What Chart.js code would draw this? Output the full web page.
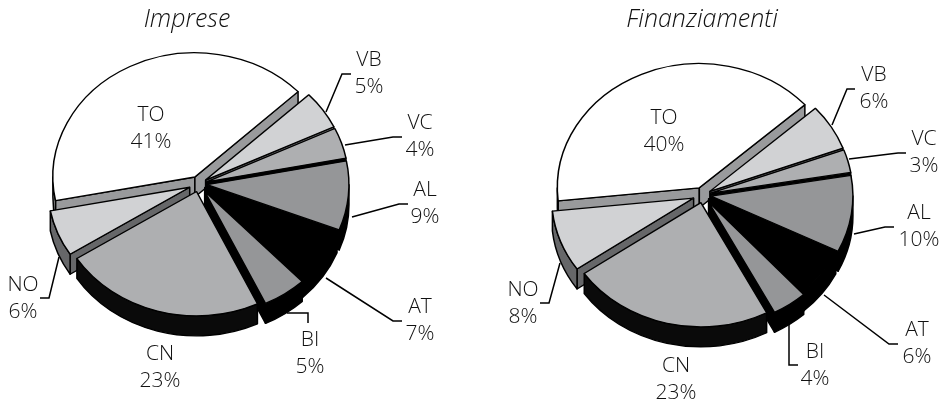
<!DOCTYPE html>
<html>
<head>
<meta charset="utf-8">
<title>Imprese e finanziamenti</title>
<script src="https://cdn.jsdelivr.net/npm/chart.js@4/dist/chart.umd.min.js"></script>
<style>
  html, body { margin: 0; padding: 0; background: #fff; }
  #wrap { position: relative; width: 942px; height: 403px; overflow: hidden; }
  canvas { position: absolute; top: 0; }
  #chart-imprese { left: 0; }
  #chart-finanziamenti { left: 471px; }
</style>
</head>
<body>
<div id="wrap">
  <canvas id="chart-imprese" width="471" height="403"></canvas>
  <canvas id="chart-finanziamenti" width="471" height="403"></canvas>
</div>
<script>
// Province, clockwise from the large white slice
const categories = ['TO', 'VB', 'VC', 'AL', 'AT', 'BI', 'CN', 'NO'];
const impreseValues = [41, 5, 4, 9, 7, 5, 23, 6];
const finanziamentiValues = [40, 6, 3, 10, 6, 4, 23, 8];

// Slice styling
const topColors = ['#ffffff', '#d1d2d4', '#aeafb1', '#959698', '#000000', '#959698', '#aeafb1', '#d1d2d4'];
const sideColors = ['#999a9c', '#5e5f61', '#000000', '#000000', '#000000', '#000000', '#0a0a0a', '#666769'];
const explode = [9, 8, 8, 8, 7, 10, 9, 10];

// Back slices have to be painted before the front ones
const paintOrder = [0, 1, 2, 3, 7, 4, 5, 6];

const SQUASH = 0.875;
const DEPTH = 20;
const LINE = 1.5;
const FONT = '"Open Sans", "Noto Sans", sans-serif';
const INK = '#111111';

// Tilts the pie and gives each slice a side wall, then lets the arc element draw the top
const tiltedPie = {
    id: 'tiltedPie',
    beforeDatasetDraw(chart, args, opts) {
        const ctx = chart.ctx;
        const arcs = args.meta.data;
        const dy = DEPTH / SQUASH;

        ctx.save();
        ctx.translate(opts.cx, opts.cy);
        ctx.scale(1, SQUASH);
        ctx.translate(-arcs[0].x, -arcs[0].y);

        paintOrder.forEach(i => {
            const el = arcs[i];
            const mid = (el.startAngle + el.endAngle) / 2;
            const k = explode[i];
            const { x, y, startAngle: s, endAngle: e, outerRadius: r } = el;

            ctx.save();
            ctx.translate(Math.cos(mid) * k, Math.sin(mid) * k);
            ctx.fillStyle = sideColors[i];
            ctx.strokeStyle = '#000';
            ctx.lineWidth = LINE;
            ctx.lineJoin = 'round';

            // radial cut faces, only the ones turned towards the viewer
            [[s, Math.cos(s) < 0], [e, Math.cos(e) > 0]].forEach(([a, visible]) => {
                if (!visible) return;
                const px = x + Math.cos(a) * r;
                const py = y + Math.sin(a) * r;
                ctx.beginPath();
                ctx.moveTo(x, y);
                ctx.lineTo(px, py);
                ctx.lineTo(px, py + dy);
                ctx.lineTo(x, y + dy);
                ctx.closePath();
                ctx.fill();
                ctx.stroke();
            });

            // outer rim, front half of the circle only
            for (let n = -2; n <= 2; n++) {
                const a0 = Math.max(s, n * 2 * Math.PI);
                const a1 = Math.min(e, n * 2 * Math.PI + Math.PI);
                if (a1 <= a0) continue;
                ctx.beginPath();
                ctx.arc(x, y, r, a0, a1);
                ctx.arc(x, y + dy, r, a1, a0, true);
                ctx.closePath();
                ctx.fill();
                ctx.stroke();
            }

            el.draw(ctx);
            ctx.restore();
        });

        ctx.restore();
        return false;
    },
    afterDraw(chart, args, opts) {
        const ctx = chart.ctx;
        ctx.save();

        ctx.fillStyle = INK;
        ctx.textAlign = 'center';
        ctx.textBaseline = 'alphabetic';
        ctx.font = 'italic 300 25px ' + FONT;
        ctx.fillText(opts.title, opts.titleX, 27);

        // leader lines
        ctx.strokeStyle = '#000';
        ctx.lineWidth = LINE;
        opts.leaders.forEach(pts => {
            ctx.beginPath();
            pts.forEach((p, j) => j ? ctx.lineTo(p[0], p[1]) : ctx.moveTo(p[0], p[1]));
            ctx.stroke();
        });

        // two-line labels: province, then share
        ctx.font = '300 21px ' + FONT;
        ctx.textBaseline = 'middle';
        const values = chart.data.datasets[0].data;
        categories.forEach((cat, i) => {
            const [lx, ly] = opts.labels[i];
            ctx.fillText(cat, lx, ly);
            ctx.fillText(values[i] + '%', lx, ly + 27);
        });
        ctx.restore();
    }
};

function makePie(id, values, rotation, opts) {
    return new Chart(document.getElementById(id), {
        type: 'pie',
        data: {
            labels: categories,
            datasets: [{
                data: values,
                backgroundColor: topColors,
                borderColor: '#000',
                borderWidth: LINE
            }]
        },
        options: {
            responsive: false,
            animation: false,
            events: [],
            rotation: rotation,
            radius: 142,
            plugins: {
                legend: { display: false },
                tooltip: { enabled: false },
                tiltedPie: opts
            }
        },
        plugins: [tiltedPie]
    });
}

makePie('chart-imprese', impreseValues, -101, {
    cx: 199,
    cy: 184,
    title: 'Imprese',
    titleX: 187,
    labels: [[151, 115], [369, 60], [420, 123], [425, 190], [420, 307], [310, 340], [160, 354], [23, 285]],
    leaders: [
        [[326, 112], [342, 74], [351, 74]],
        [[345, 145], [393, 137], [402, 137]],
        [[352, 217], [399, 204], [408, 204]],
        [[326, 278], [393, 321], [402, 321]],
        [[287, 313], [308, 313], [308, 323]],
        [[59, 257], [49, 298], [40, 298]]
    ]
});

makePie('chart-finanziamenti', finanziamentiValues, -96, {
    cx: 232,
    cy: 195,
    title: 'Finanziamenti',
    titleX: 231,
    labels: [[193, 118], [403, 75], [453, 139], [448, 213], [446, 330], [344, 352], [205, 366], [52, 290]],
    leaders: [
        [[361, 125], [376, 89], [384, 89]],
        [[378, 159], [427, 153], [435, 153]],
        [[383, 234], [414, 227], [423, 227]],
        [[353, 295], [418, 344], [427, 344]],
        [[318, 324], [318, 365], [327, 365]],
        [[89, 263], [78, 303], [69, 303]]
    ]
});
</script>
</body>
</html>
